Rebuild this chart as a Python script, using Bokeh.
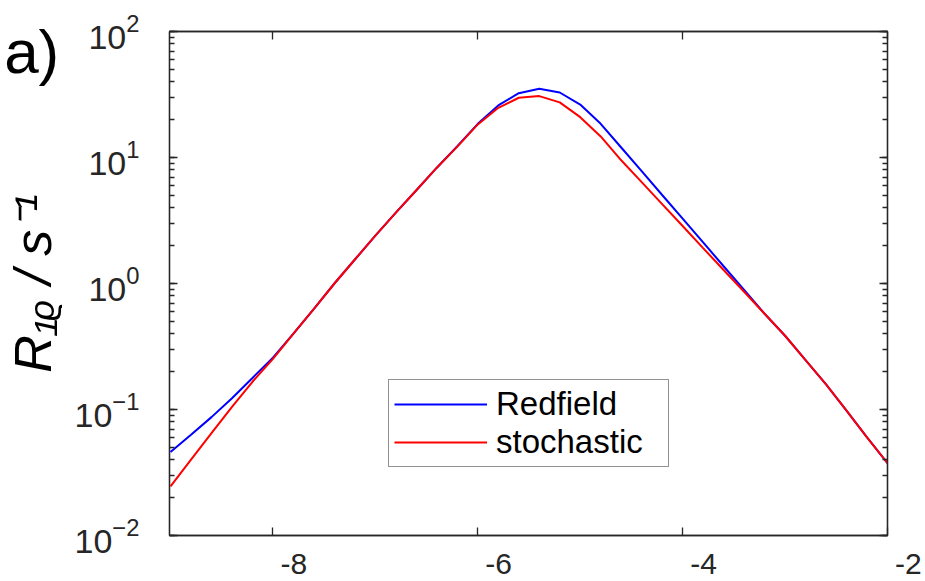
from bokeh.plotting import figure
from bokeh.models import (LogAxis, LinearAxis, Range1d, FixedTicker, LogTicker,
                          Legend, LegendItem, CustomJSTickFormatter)
from bokeh.embed import file_html
from bokeh.resources import INLINE

# ---- data ----
x_vals = [-9.0, -8.8, -8.6, -8.4, -8.2, -8.0, -7.8, -7.6, -7.4, -7.2, -7.0, -6.8,
          -6.6, -6.4, -6.2, -6.0, -5.8, -5.6, -5.4, -5.2, -5.0, -4.8, -4.6, -4.4,
          -4.2, -4.0, -3.8, -3.6, -3.4, -3.2, -3.0, -2.8, -2.6, -2.4, -2.2, -2.0]
redfield = [0.046, 0.063, 0.087, 0.123, 0.178, 0.258, 0.40, 0.63, 1.0, 1.55, 2.4, 3.65,
            5.5, 8.3, 12.3, 18.5, 25.9, 32.4, 35.1, 32.8, 26.3, 18.5, 12.0, 7.8,
            5.04, 3.27, 2.12, 1.37, 0.89, 0.575, 0.385, 0.247, 0.158, 0.098, 0.060, 0.0375]
stochastic = [0.0245, 0.040, 0.065, 0.105, 0.166, 0.252, 0.40, 0.63, 1.0, 1.55, 2.4, 3.65,
              5.5, 8.3, 12.2, 18.3, 24.8, 29.8, 30.7, 27.4, 20.9, 14.7, 9.5, 6.37,
              4.27, 2.86, 1.91, 1.28, 0.86, 0.575, 0.385, 0.247, 0.158, 0.098, 0.060, 0.0375]
x_ticks = [-8, -6, -4, -2]
x_tick_labels = ["-8", "-6", "-4", "-2"]
series_names = ["Redfield", "stochastic"]
y_label = "R\u2081\u1d68 / s\u207b\u00b9"
panel_tag = "a)"

AX = "#262626"
FONT = "Liberation Sans"

p = figure(frame_width=718, frame_height=504,
           min_border_left=169, min_border_top=31, min_border_right=37, min_border_bottom=45,
           x_range=Range1d(-9.01, -2.0), y_range=Range1d(0.01, 100),
           y_axis_type="log", output_backend="svg", toolbar_location=None,
           background_fill_color="white", border_fill_color="white")
p.xgrid.visible = False
p.ygrid.visible = False
p.outline_line_color = AX
p.outline_line_width = 1.3
p.extra_y_ranges = {"tag": Range1d(0, 1)}
p.extra_x_ranges = {"tagx": Range1d(0, 1)}

empty = CustomJSTickFormatter(code="return ''")

# bottom axis: ticks inward, labels shifted right (as in the reference)
xa = p.xaxis[0]
xa.ticker = FixedTicker(ticks=x_ticks)
xa.formatter = CustomJSTickFormatter(args=dict(labels=x_tick_labels),
                                     code="return '\u00a0\u00a0\u00a0\u00a0\u00a0' + labels[index]")
xa.axis_line_color = AX
xa.axis_line_width = 1.3
xa.major_tick_line_color = AX
xa.major_tick_line_width = 1.3
xa.major_tick_in = 8
xa.major_tick_out = 0
xa.minor_tick_line_color = None
xa.major_label_standoff = 11
xa.major_label_text_font = FONT
xa.major_label_text_font_size = "30px"
xa.major_label_text_color = AX

top = LinearAxis(ticker=FixedTicker(ticks=x_ticks), formatter=empty,
                 axis_line_color=AX, axis_line_width=1.3,
                 major_tick_line_color=AX, major_tick_line_width=1.3,
                 major_tick_in=8, major_tick_out=0, minor_tick_line_color=None,
                 major_label_standoff=0, major_label_text_font_size="0px")
p.add_layout(top, "above")

# panel tag "a)" drawn as the single label of an outer, invisible top axis
tag_top = LinearAxis(x_range_name="tagx", ticker=FixedTicker(ticks=[0.0]),
                     formatter=CustomJSTickFormatter(args=dict(t=panel_tag),
                                                     code="return t + '\u00a0'.repeat(16)"),
                     axis_line_color=None, major_tick_line_color=None, minor_tick_line_color=None,
                     major_tick_in=0, major_tick_out=0,
                     major_label_standoff=-54, major_label_text_font=FONT,
                     major_label_text_font_size="62px", major_label_text_color="black")
p.add_layout(tag_top, "above")

ya = p.yaxis[0]
ya.ticker = LogTicker(desired_num_ticks=5, num_minor_ticks=10)
ya.axis_line_color = AX
ya.axis_line_width = 1.3
ya.major_tick_line_color = AX
ya.major_tick_line_width = 1.3
ya.minor_tick_line_color = AX
ya.minor_tick_line_width = 1.3
ya.major_tick_in = 8
ya.major_tick_out = 0
ya.minor_tick_in = 5
ya.minor_tick_out = 0
ya.major_label_standoff = 30
ya.major_label_text_font = FONT
ya.major_label_text_font_size = "34px"
ya.major_label_text_color = AX

# outer left axis: carries only the y-axis title
title_axis = LinearAxis(y_range_name="tag", ticker=FixedTicker(ticks=[]),
                        axis_line_color=None, major_tick_line_color=None, minor_tick_line_color=None,
                        major_tick_in=0, major_tick_out=0, major_label_standoff=0,
                        axis_label=y_label, axis_label_standoff=10,
                        axis_label_text_font=FONT, axis_label_text_font_size="52px",
                        axis_label_text_font_style="italic", axis_label_text_color="black")
p.add_layout(title_axis, "left")

right = LogAxis(ticker=LogTicker(desired_num_ticks=5, num_minor_ticks=10), formatter=empty,
                axis_line_color=AX, axis_line_width=1.3,
                major_tick_line_color=AX, major_tick_line_width=1.3,
                minor_tick_line_color=AX, minor_tick_line_width=1.3,
                major_tick_in=8, major_tick_out=0, minor_tick_in=5, minor_tick_out=0,
                major_label_standoff=0, major_label_text_font_size="0px")
p.add_layout(right, "right")

# curves
r1 = p.line(x_vals, redfield, line_color="#0000FF", line_width=2)
r2 = p.line(x_vals, stochastic, line_color="#FF0000", line_width=2)

legend = Legend(items=[LegendItem(label=series_names[0], renderers=[r1]),
                       LegendItem(label=series_names[1], renderers=[r2])],
                location=(219, 68), margin=0, padding=5, spacing=0,
                glyph_width=93, glyph_height=36, label_height=36, label_width=167,
                label_standoff=9, label_text_font=FONT, label_text_font_size="33px",
                label_text_color="black", border_line_color=AX, border_line_width=1.3,
                background_fill_color="white", background_fill_alpha=1.0)
p.add_layout(legend)

open("out.html", "w").write(file_html(p, INLINE))
